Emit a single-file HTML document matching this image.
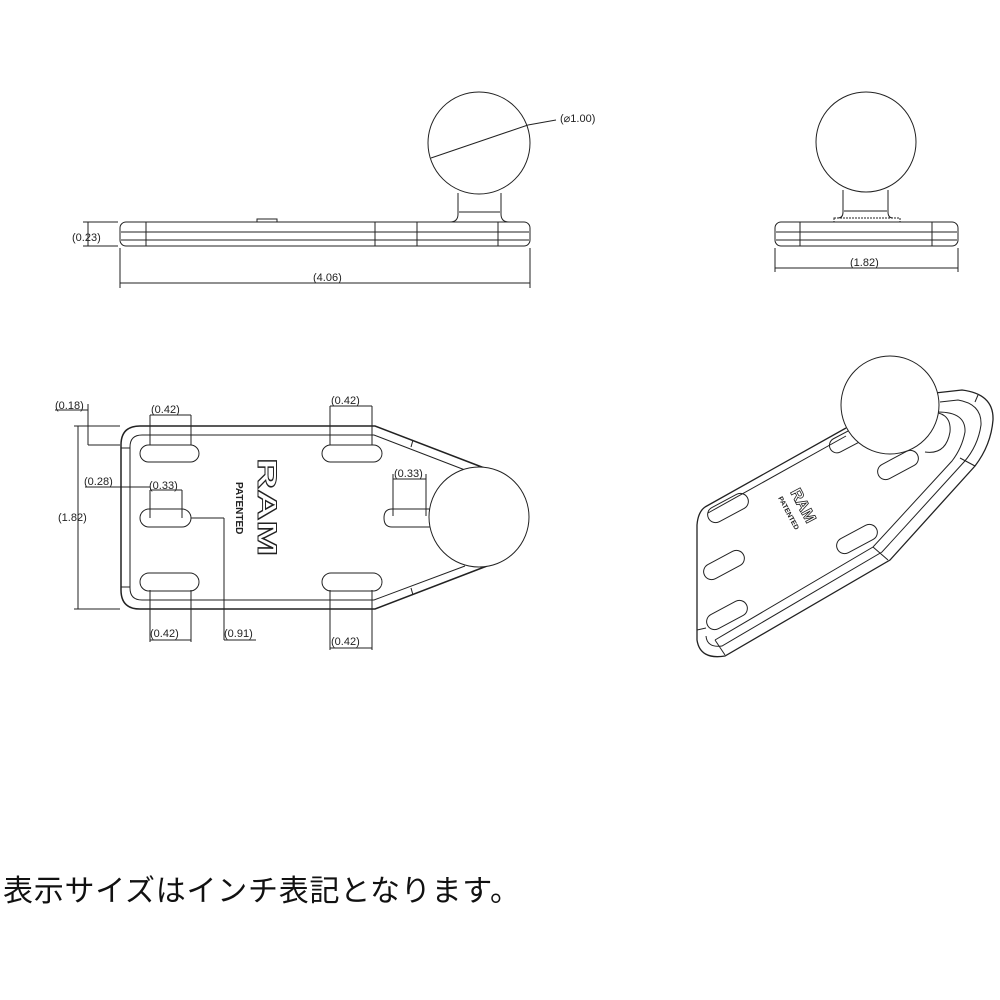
<!DOCTYPE html>
<html><head><meta charset="utf-8"><style>
html,body{margin:0;padding:0;background:#fff;width:1000px;height:1000px;overflow:hidden}
svg{display:block}
.t{font-family:"Liberation Sans",sans-serif;font-size:11px;fill:#222}
</style></head><body>
<svg width="1000" height="1000" viewBox="0 0 1000 1000" xmlns="http://www.w3.org/2000/svg">
<g fill="none" stroke="#222" stroke-width="1">
<!-- Side view -->
<rect x="120" y="222" width="410" height="24" rx="6"/>
<line x1="121" y1="232" x2="529" y2="232"/>
<line x1="121" y1="240" x2="529" y2="240"/>
<line x1="146" y1="222" x2="146" y2="246"/>
<line x1="375" y1="222" x2="375" y2="246"/>
<line x1="417" y1="222" x2="417" y2="246"/>
<line x1="498" y1="222" x2="498" y2="246"/>
<rect x="257" y="219" width="20" height="3"/>
<line x1="238" y1="222" x2="250" y2="222"/>
<path d="M458 193 L458 214 Q458 222 450 222 M501 193 L501 214 Q501 222 509 222"/>
<line x1="459" y1="212" x2="500" y2="212"/>
<circle cx="479" cy="143" r="51" fill="#fff"/>
<line x1="431" y1="158" x2="528" y2="125"/>
<line x1="528" y1="125" x2="556" y2="120"/>
<line x1="83" y1="222" x2="118" y2="222"/><line x1="83" y1="246" x2="118" y2="246"/>
<line x1="88" y1="222" x2="88" y2="246"/>
<line x1="120" y1="248" x2="120" y2="288"/><line x1="530" y1="248" x2="530" y2="288"/>
<line x1="120" y1="283" x2="530" y2="283"/>
<!-- Right view -->
<rect x="775" y="222" width="183" height="24" rx="6"/>
<line x1="776" y1="232" x2="957" y2="232"/>
<line x1="776" y1="240" x2="957" y2="240"/>
<line x1="800" y1="222" x2="800" y2="246"/>
<line x1="932" y1="222" x2="932" y2="246"/>
<rect x="834" y="218" width="66" height="4" stroke-dasharray="2 1"/>
<path d="M843 190 L843 212 Q843 218 838 218 M888 190 L888 212 Q888 218 893 218"/>
<line x1="844" y1="211" x2="887" y2="211"/>
<circle cx="866" cy="142" r="50" fill="#fff"/>
<line x1="775" y1="248" x2="775" y2="272"/><line x1="958" y1="248" x2="958" y2="272"/>
<line x1="775" y1="268" x2="958" y2="268"/>
<!-- Top view -->
<path d="M140 426 L375 426 L487 469 M487 566 L375 609 L140 609 Q121 609 121 590 L121 445 Q121 426 140 426" stroke-width="1.5"/>
<path d="M142 435 L374 435 L465 470 M465 566 L374 600 L142 600 Q130 600 130 588 L130 447 Q130 435 142 435"/>
<line x1="121" y1="448" x2="130" y2="448"/><line x1="121" y1="587" x2="130" y2="587"/>
<line x1="413" y1="440" x2="411" y2="447"/><line x1="413" y1="595" x2="411" y2="588"/>
<circle cx="479" cy="517" r="50" fill="#fff"/>
<rect x="140" y="445" width="59" height="17" rx="8.5"/>
<rect x="140" y="509" width="51" height="18" rx="9"/>
<rect x="140" y="573" width="59" height="18" rx="9"/>
<rect x="322" y="445" width="60" height="17" rx="8.5"/>
<rect x="322" y="573" width="60" height="18" rx="9"/>
<path d="M430 509 L392 509 Q384 509 384 518 Q384 527 392 527 L430 527"/>
<!-- top view dims -->
<line x1="150" y1="415" x2="150" y2="445"/><line x1="191" y1="415" x2="191" y2="445"/><line x1="150" y1="415" x2="191" y2="415"/>
<line x1="330" y1="406" x2="330" y2="445"/><line x1="372" y1="406" x2="372" y2="445"/><line x1="330" y1="406" x2="372" y2="406"/>
<line x1="150" y1="590" x2="150" y2="642"/><line x1="191" y1="590" x2="191" y2="642"/><line x1="150" y1="640" x2="191" y2="640"/>
<line x1="330" y1="590" x2="330" y2="650"/><line x1="372" y1="590" x2="372" y2="650"/><line x1="330" y1="648" x2="372" y2="648"/>
<line x1="150" y1="490" x2="150" y2="518"/><line x1="182" y1="490" x2="182" y2="518"/><line x1="150" y1="490" x2="182" y2="490"/>
<line x1="393" y1="474" x2="393" y2="516"/><line x1="426" y1="474" x2="426" y2="516"/><line x1="393" y1="479" x2="426" y2="479"/>
<line x1="191" y1="518" x2="224" y2="518"/><line x1="224" y1="518" x2="224" y2="640"/><line x1="224" y1="640" x2="256" y2="640"/>
<line x1="74" y1="426" x2="120" y2="426"/><line x1="74" y1="609" x2="120" y2="609"/><line x1="78" y1="426" x2="78" y2="609"/>
<line x1="88" y1="404" x2="88" y2="445"/><line x1="88" y1="445" x2="120" y2="445"/><line x1="55" y1="410" x2="88" y2="410"/>
<line x1="85" y1="487" x2="150" y2="487"/>
<!-- Iso view -->
<path d="M705 507 L846 428 M935 393 L962 390 Q994 394 993 420 Q991 445 975 466 L890 560 L725 656 Q700 660 697 640 L697 525 Q698 512 705 507" stroke-width="1.3"/>
<path d="M708 513 L846 436"/>
<path d="M940 402 L958 400 Q982 404 981 425 Q978 446 964 462 L882 552 L722 646 Q707 648 706 636"/>
<path d="M938 412 Q966 412 965 432 Q962 448 952 461 L873 547 L715 640"/>
<line x1="706" y1="628" x2="697" y2="630"/>
<line x1="715" y1="640" x2="725" y2="655"/><line x1="873" y1="547" x2="888" y2="560"/><line x1="960" y1="458" x2="975" y2="466"/>
<line x1="978" y1="395" x2="975" y2="402"/>
<path d="M925 412 Q952 410 950 432 Q946 455 925 452"/>
<g transform="rotate(-28 728 508)"><rect x="706" y="500" width="44" height="16" rx="8"/></g>
<g transform="rotate(-28 724 565)"><rect x="702" y="557" width="44" height="16" rx="8"/></g>
<g transform="rotate(-28 727 615)"><rect x="705" y="607" width="44" height="16" rx="8"/></g>
<g transform="rotate(-28 857 539)"><rect x="835" y="531" width="44" height="16" rx="8"/></g>
<g transform="rotate(-28 898 465)"><rect x="876" y="457" width="44" height="16" rx="8"/></g>
<g transform="rotate(-28 846 440)"><rect x="828" y="433" width="36" height="15" rx="7.5"/></g>
<circle cx="890" cy="405" r="49" fill="#fff"/>
</g>
<g class="t">
<text x="560" y="122">(⌀1.00)</text>
<text x="72" y="241">(0.23)</text>
<text x="313" y="281">(4.06)</text>
<text x="850" y="266">(1.82)</text>
<text x="55" y="409">(0.18)</text>
<text x="151" y="413">(0.42)</text>
<text x="331" y="404">(0.42)</text>
<text x="84" y="485">(0.28)</text>
<text x="149" y="489">(0.33)</text>
<text x="394" y="477">(0.33)</text>
<text x="58" y="521">(1.82)</text>
<text x="150" y="637">(0.42)</text>
<text x="224" y="637">(0.91)</text>
<text x="331" y="645">(0.42)</text>
</g>
<text transform="translate(258,458) rotate(90) scale(1.6,1)" font-family="Liberation Sans,sans-serif" font-size="27" font-weight="bold" fill="#fff" stroke="#222" stroke-width="1">RAM</text>
<text transform="translate(236,482) rotate(90)" font-family="Liberation Sans,sans-serif" font-size="10" font-weight="bold" fill="#222">PATENTED</text>
<text transform="translate(790,492) rotate(62)" font-family="Liberation Sans,sans-serif" font-size="16" font-weight="bold" fill="#fff" stroke="#222" stroke-width="0.8">RAM</text>
<text transform="translate(778,498) rotate(62)" font-family="Liberation Sans,sans-serif" font-size="7" font-weight="bold" fill="#222">PATENTED</text>
<text x="3" y="901" font-family="'Liberation Sans','Noto Sans CJK JP',sans-serif" font-size="30" fill="#111" textLength="517" lengthAdjust="spacing">表示サイズはインチ表記となります。</text>
</svg>
</body></html>
